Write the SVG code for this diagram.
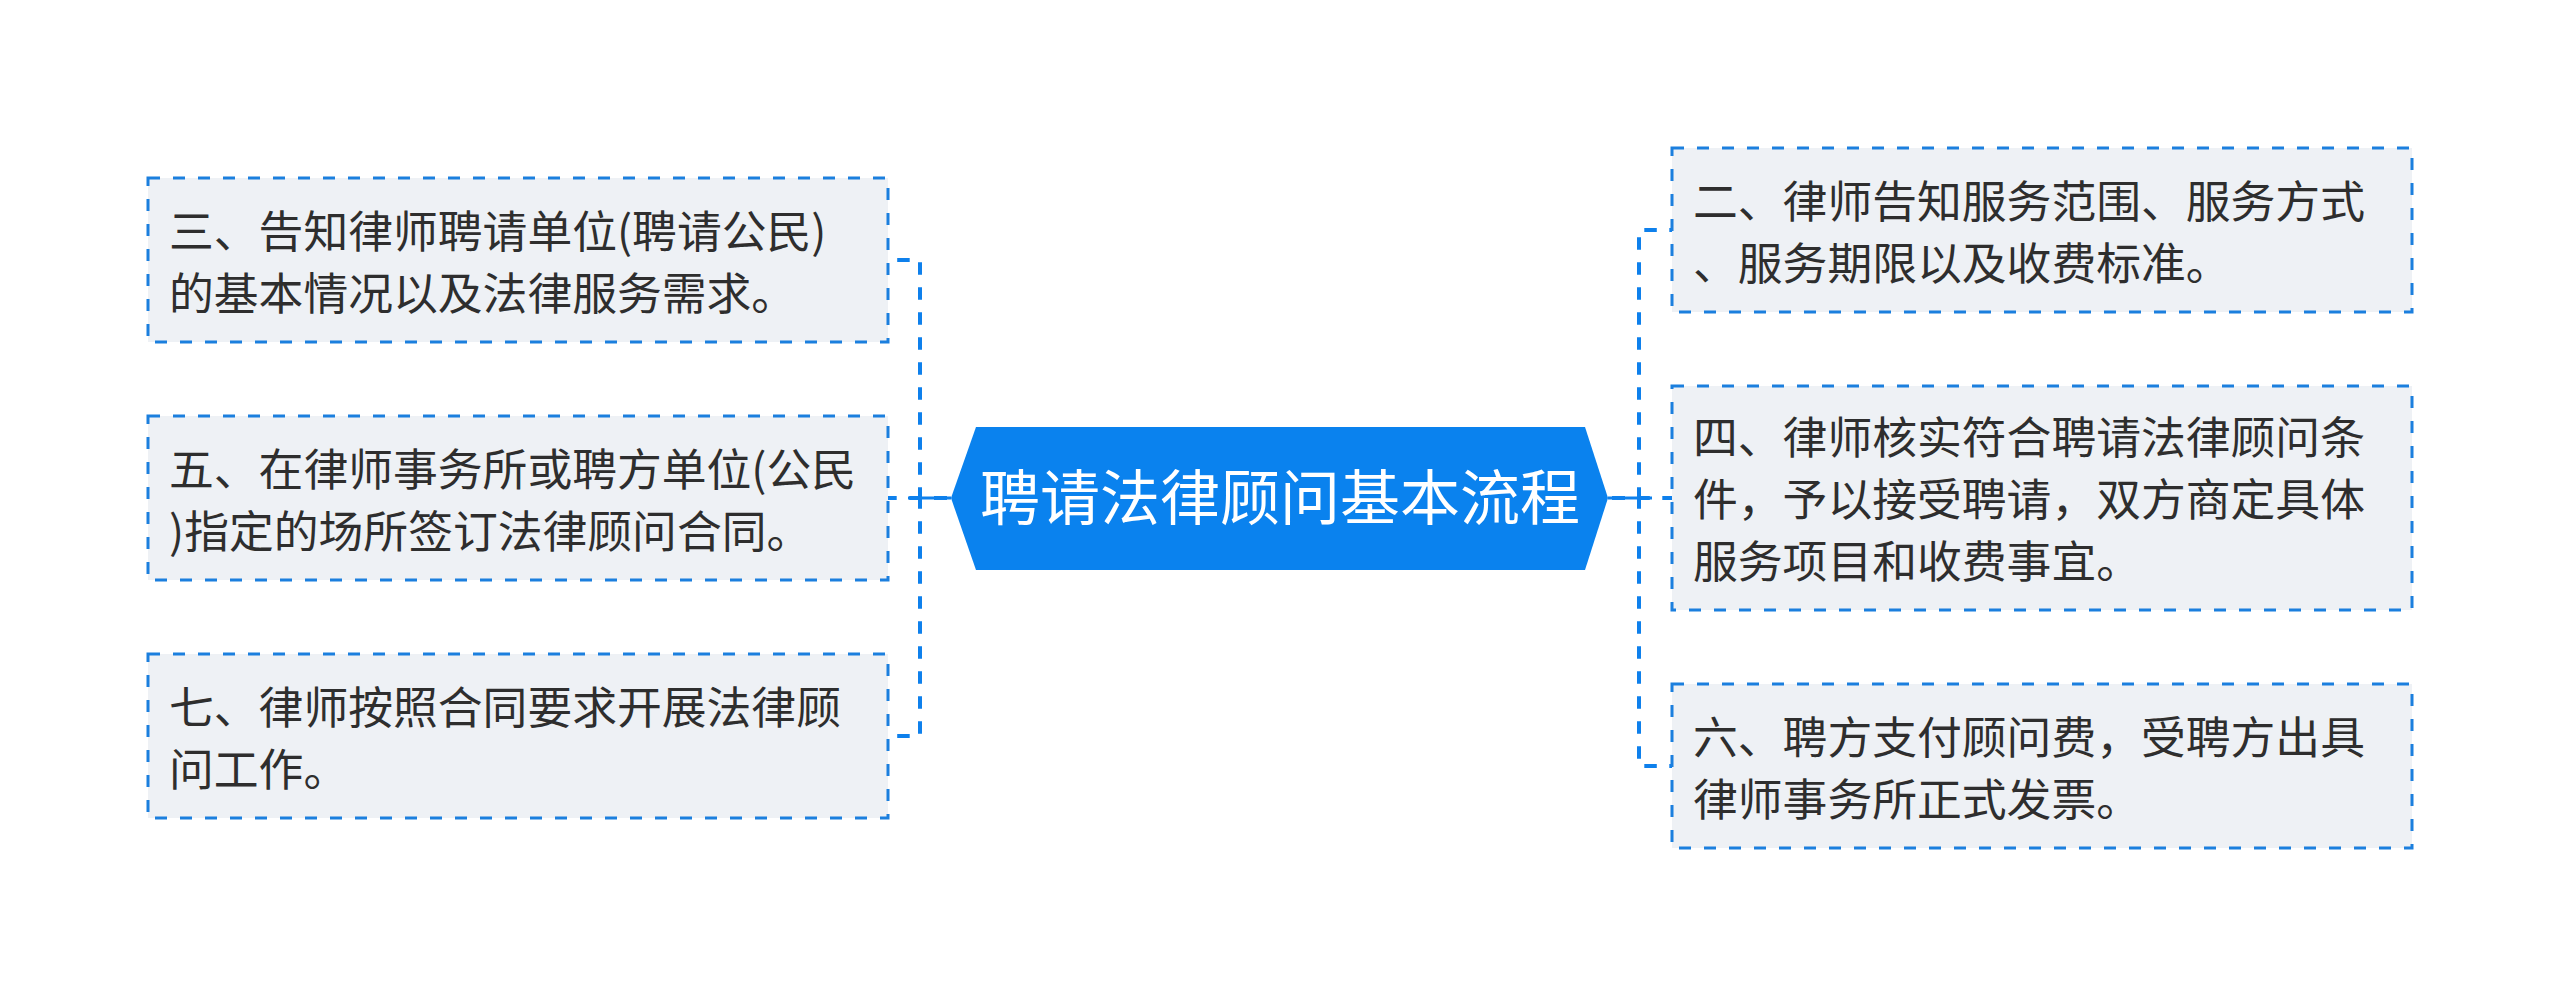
<svg xmlns="http://www.w3.org/2000/svg" width="2560" height="997" viewBox="0 0 2560 997">
<style>
.box{fill:#EEF1F5;stroke:#1B7FDE;stroke-width:3;stroke-dasharray:12 13;}
.t{font-family:"Noto Sans CJK SC","Noto Sans",sans-serif;font-size:44.8px;fill:#2E2E2E;}
.title{font-family:"Noto Sans CJK SC","Noto Sans",sans-serif;font-size:60px;fill:#FFFFFF;text-anchor:middle;}
.dash{fill:none;stroke:#0E80EC;stroke-width:4;stroke-dasharray:12.5 12.5;stroke-dashoffset:-4.3;}
.solid{fill:none;stroke:#0E80EC;stroke-width:3.2;}
</style>
<rect width="2560" height="997" fill="#FFFFFF"/>
<g id="connectors">
<path class="dash" d="M951,498 H920 V260 H888"/>
<path class="dash" d="M951,498 H888"/>
<path class="dash" d="M951,498 H920 V736 H888"/>
<path class="dash" d="M1608,498 H1639 V230 H1672"/>
<path class="dash" d="M1608,498 H1672"/>
<path class="dash" d="M1608,498 H1639 V766 H1672"/>
<path class="solid" d="M951,498 H908"/>
<path class="solid" d="M1608,498 H1652"/>
</g>
<g id="center">
<polygon points="951,498 976,427 1585,427 1608,498 1585,570 976,570" fill="#0A82EE"/>
<text class="title" x="1280" y="520">聘请法律顾问基本流程</text>
</g>
<g id="node-left-1">
<rect class="box" x="148" y="178" width="740" height="164"/>
<text class="t" x="169" y="248">三、告知律师聘请单位(聘请公民)</text>
<text class="t" x="169" y="309.6">的基本情况以及法律服务需求。</text>
</g>
<g id="node-left-2">
<rect class="box" x="148" y="416" width="740" height="164"/>
<text class="t" x="169" y="486">五、在律师事务所或聘方单位(公民</text>
<text class="t" x="169" y="547.6">)指定的场所签订法律顾问合同。</text>
</g>
<g id="node-left-3">
<rect class="box" x="148" y="654" width="740" height="164"/>
<text class="t" x="169" y="724">七、律师按照合同要求开展法律顾</text>
<text class="t" x="169" y="785.6">问工作。</text>
</g>
<g id="node-right-1">
<rect class="box" x="1672" y="148" width="740" height="164"/>
<text class="t" x="1693" y="218">二、律师告知服务范围、服务方式</text>
<text class="t" x="1693" y="279.6">、服务期限以及收费标准。</text>
</g>
<g id="node-right-2">
<rect class="box" x="1672" y="386" width="740" height="224"/>
<text class="t" x="1693" y="454.4">四、律师核实符合聘请法律顾问条</text>
<text class="t" x="1693" y="516">件，予以接受聘请，双方商定具体</text>
<text class="t" x="1693" y="577.6">服务项目和收费事宜。</text>
</g>
<g id="node-right-3">
<rect class="box" x="1672" y="684" width="740" height="164"/>
<text class="t" x="1693" y="754">六、聘方支付顾问费，受聘方出具</text>
<text class="t" x="1693" y="815.6">律师事务所正式发票。</text>
</g>
</svg>
